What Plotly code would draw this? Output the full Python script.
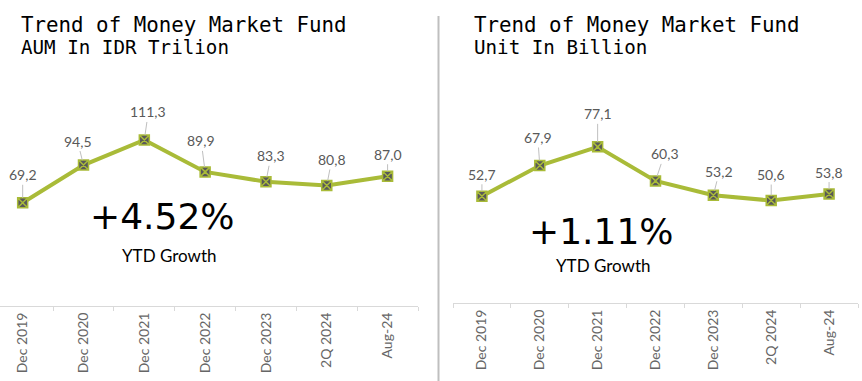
import plotly.graph_objects as go

categories = ["Dec 2019", "Dec 2020", "Dec 2021", "Dec 2022", "Dec 2023", "2Q 2024", "Aug-24"]
aum_trillion = [69.2, 94.5, 111.3, 89.9, 83.3, 80.8, 87.0]
units_billion = [52.7, 67.9, 77.1, 60.3, 53.2, 50.6, 53.8]
growth_aum = "+4.52%"
growth_units = "+1.11%"

# label offsets (pixels) for leader-lined data labels
off_left = [(0, -28), (-6, -24), (4, -28), (-4, -31), (5, -26), (5, -26), (0, -22)]
off_right = [(0, -22), (-2, -28), (0, -33), (9, -27), (6, -24), (0, -26), (0, -22)]

W, H = 862, 381
LINE = "#A9BB38"
GRAY = "#595959"
TICKGRAY = "#666666"
AXC = "#D9D9D9"
LBL_FONT = "Lato"


def px_x(p):
    return p / W


def px_y(p):
    return 1 - p / H


fig = go.Figure()
for vals, xa, ya in [(aum_trillion, "x", "y"), (units_billion, "x2", "y2")]:
    fig.add_trace(go.Scatter(
        x=categories, y=vals, xaxis=xa, yaxis=ya, mode="lines+markers",
        line=dict(color=LINE, width=4),
        marker=dict(symbol="square-x", size=10, color=GRAY,
                    line=dict(color=LINE, width=1.5)),
        cliponaxis=False, hoverinfo="skip", showlegend=False))

annotations = []
for vals, offs, xr, yr in [(aum_trillion, off_left, "x", "y"), (units_billion, off_right, "x2", "y2")]:
    for c, v, (ax, ay) in zip(categories, vals, offs):
        annotations.append(dict(
            x=c, y=v, xref=xr, yref=yr, text=f"{v:.1f}".replace(".", ","),
            showarrow=True, arrowhead=0, arrowwidth=1, arrowcolor="#BFBFBF",
            ax=ax, ay=ay, standoff=5,
            font=dict(family=LBL_FONT, size=14, color=GRAY)))

# titles
for x0, sub in [(19, "AUM In IDR Trilion"), (472, "Unit In Billion")]:
    annotations.append(dict(x=px_x(x0), y=px_y(25), xref="paper", yref="paper",
                            xanchor="left", yanchor="middle", showarrow=False,
                            text="Trend of Money Market Fund",
                            font=dict(family="DejaVu Sans Mono", size=20.8, color="#000000")))
    annotations.append(dict(x=px_x(x0), y=px_y(47), xref="paper", yref="paper",
                            xanchor="left", yanchor="middle", showarrow=False,
                            text=sub,
                            font=dict(family="DejaVu Sans Mono", size=19.2, color="#000000")))

# growth callouts
for cx, cy, g in [(162, 217, growth_aum), (601, 231, growth_units)]:
    annotations.append(dict(x=px_x(cx), y=px_y(cy), xref="paper", yref="paper",
                            xanchor="center", yanchor="middle", showarrow=False,
                            text=g, font=dict(family="DejaVu Sans", size=36, color="#000000")))
for cx, cy in [(169, 255), (603, 265)]:
    annotations.append(dict(x=px_x(cx), y=px_y(cy), xref="paper", yref="paper",
                            xanchor="center", yanchor="middle", showarrow=False,
                            text="YTD Growth", font=dict(family=LBL_FONT, size=17, color="#000000")))

xcommon = dict(type="category", showline=True, linecolor=AXC, linewidth=1,
               ticks="outside", ticklen=4, tickcolor=AXC, tickson="boundaries",
               tickangle=-90, showgrid=False, zeroline=False,
               tickfont=dict(family=LBL_FONT, size=14, color=TICKGRAY))
ycommon = dict(visible=False, showgrid=False, zeroline=False)

fig.update_layout(
    width=W, height=H, margin=dict(l=0, r=0, t=0, b=0),
    paper_bgcolor="white", plot_bgcolor="white",
    xaxis=dict(domain=[0, px_x(418)], range=[-0.373, 6.5], anchor="y", **xcommon),
    yaxis=dict(domain=[px_y(306), px_y(127)], range=[0, 120], anchor="x", **ycommon),
    xaxis2=dict(domain=[px_x(453), px_x(858)], range=[-0.5, 6.5], anchor="y2", **xcommon),
    yaxis2=dict(domain=[px_y(303), px_y(141)], range=[0, 80], anchor="x2", **ycommon),
    annotations=annotations,
    shapes=[dict(type="line", xref="paper", yref="paper",
                 x0=px_x(438.5), x1=px_x(438.5), y0=0, y1=px_y(16),
                 line=dict(color="#BFBFBF", width=2))],
)

fig.write_html("out.html", config={"displayModeBar": False},
               post_script="document.body.style.margin='0px';")
